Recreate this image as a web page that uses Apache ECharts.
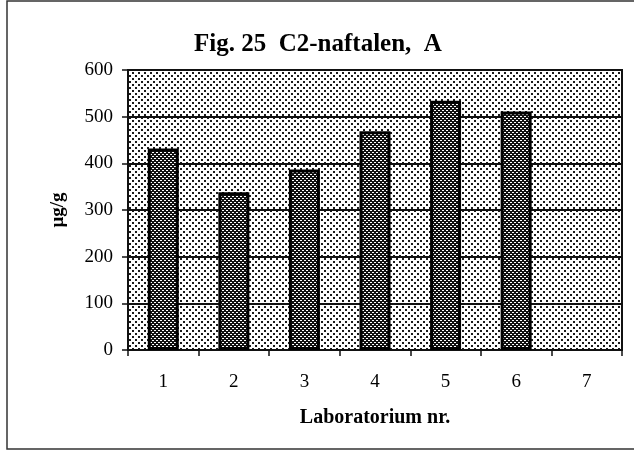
<!DOCTYPE html>
<html>
<head>
<meta charset="utf-8">
<script src="https://cdn.jsdelivr.net/npm/echarts@6/dist/echarts.min.js"></script>
<style>
  html, body { margin: 0; padding: 0; background: #fff; }
  #chart { width: 634px; height: 451px; }
</style>
</head>
<body>
<div id="chart"></div>
<script>
// data
var labs = ['1', '2', '3', '4', '5', '6', '7'];
var values = [432, 338, 387, 469, 534, 511, '-'];
var yTicks = [0, 100, 200, 300, 400, 500, 600];

// dotted screen patterns, like the scanned print
function makePattern(size, bg, fg, dots) {
  var c = document.createElement('canvas');
  c.width = size;
  c.height = size;
  var ctx = c.getContext('2d');
  ctx.fillStyle = bg;
  ctx.fillRect(0, 0, size, size);
  ctx.fillStyle = fg;
  dots.forEach(function (d) {
    ctx.fillRect(d[0], d[1], d[2], d[3]);
  });
  return { image: c, repeat: 'repeat' };
}
var backPattern = makePattern(6, '#ffffff', '#1a1a1a', [[0, 0, 2, 2], [3, 3, 2, 2]]);
var barPattern = makePattern(4, '#111111', '#ffffff', [[0, 0, 2, 1], [2, 2, 2, 1]]);

var serif = 'Liberation Serif';
var myChart = echarts.init(document.getElementById('chart'));
myChart.setOption({
  backgroundColor: '#fff',
  animation: false,
  title: {
    text: 'Fig. 25  C2-naftalen,  A',
    left: 189,
    top: 27,
    textStyle: { fontFamily: serif, fontSize: 25, fontWeight: 'bold', color: '#000' }
  },
  graphic: [{
    type: 'rect',
    shape: { x: 7, y: 1, width: 640, height: 448 },
    style: { fill: 'none', stroke: '#333', lineWidth: 1.5 },
    silent: true
  }],
  grid: {
    left: 128,
    right: 12,
    top: 70,
    bottom: 101,
    show: true,
    backgroundColor: backPattern,
    borderColor: '#111',
    borderWidth: 2
  },
  xAxis: {
    type: 'category',
    data: labs,
    boundaryGap: true,
    name: 'Laboratorium nr.',
    nameLocation: 'middle',
    nameGap: 58,
    nameTextStyle: { fontFamily: serif, fontSize: 20, fontWeight: 'bold', color: '#000' },
    axisLine: { lineStyle: { color: '#111', width: 2 } },
    axisTick: { show: true, length: 6, lineStyle: { color: '#111', width: 1.5 } },
    axisLabel: { margin: 23, fontFamily: serif, fontSize: 19, color: '#000' },
    splitLine: { show: false }
  },
  yAxis: {
    type: 'value',
    min: yTicks[0],
    max: yTicks[yTicks.length - 1],
    interval: 100,
    name: 'µg/g',
    nameLocation: 'middle',
    nameGap: 60,
    nameTextStyle: { fontFamily: serif, fontSize: 19, fontWeight: 'bold', color: '#000' },
    axisLine: { show: true, lineStyle: { color: '#111', width: 2 } },
    axisTick: { show: true, length: 6, lineStyle: { color: '#111', width: 1.5 } },
    axisLabel: { margin: 15, fontFamily: serif, fontSize: 19, color: '#000' },
    splitLine: { show: true, lineStyle: { color: '#111', width: 2 } }
  },
  series: [{
    type: 'bar',
    data: values,
    barWidth: 31,
    itemStyle: { color: barPattern, borderColor: '#000', borderWidth: 3 }
  }]
});
</script>
</body>
</html>
